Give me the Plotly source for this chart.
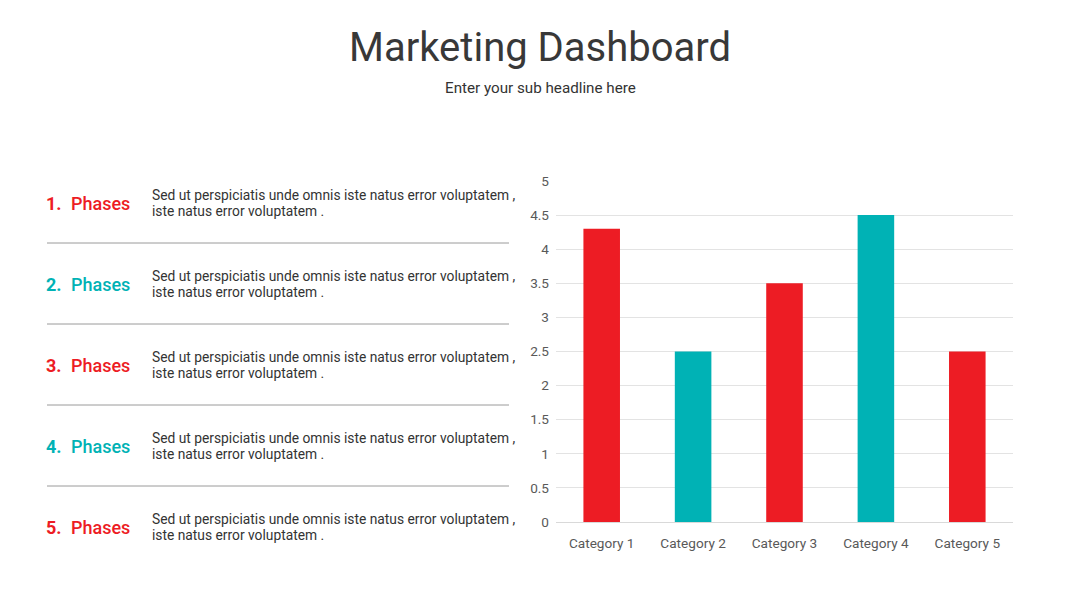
import plotly.graph_objects as go

categories = ["Category 1", "Category 2", "Category 3", "Category 4", "Category 5"]
values = [4.3, 2.5, 3.5, 4.5, 2.5]
bar_colors = ["#ED1C24", "#00B2B5", "#ED1C24", "#00B2B5", "#ED1C24"]
y_ticks = [0, 0.5, 1, 1.5, 2, 2.5, 3, 3.5, 4, 4.5, 5]
y_tick_labels = ["0", "0.5", "1", "1.5", "2", "2.5", "3", "3.5", "4", "4.5", "5"]

phase_numbers = ["1.", "2.", "3.", "4.", "5."]
phase_labels = ["Phases"] * 5
phase_colors = ["#ED1C24", "#00B2B5", "#ED1C24", "#00B2B5", "#ED1C24"]
phase_line1 = ["Sed ut perspiciatis unde omnis iste natus error voluptatem ,"] * 5
phase_line2 = ["iste natus error voluptatem ."] * 5

title = "Marketing Dashboard"
subtitle = "Enter your sub headline here"

W, H = 1080, 608
FONT = "Roboto"
OFF = 8  # page offset of the plot div

def py(y):
    return 1 - (y - OFF) / H

def px(x):
    return (x - OFF) / W

fig = go.Figure()
fig.add_trace(go.Bar(
    x=categories, y=values, marker=dict(color=bar_colors, line=dict(width=0)),
    hoverinfo="x+y", showlegend=False,
))

annotations = [
    dict(text=title, x=px(540), y=py(47), xref="paper", yref="paper", showarrow=False,
         xanchor="center", yanchor="middle", font=dict(family=FONT, size=40, color="#383838")),
    dict(text=subtitle, x=px(540), y=py(88), xref="paper", yref="paper", showarrow=False,
         xanchor="center", yanchor="middle", font=dict(family=FONT, size=15.2, color="#333333")),
]
shapes = []
row_y = [203, 284, 365, 446, 527]
for i, yc in enumerate(row_y):
    annotations.append(dict(text="<b>" + phase_numbers[i] + "</b>", x=px(44), y=py(yc), xref="paper", yref="paper",
                            showarrow=False, xanchor="left", yanchor="middle",
                            font=dict(family=FONT, size=18, color=phase_colors[i])))
    annotations.append(dict(text=phase_labels[i], x=px(69), y=py(yc), xref="paper", yref="paper",
                            showarrow=False, xanchor="left", yanchor="middle",
                            font=dict(family=FONT, size=18, color=phase_colors[i], weight=500)))
    annotations.append(dict(text=phase_line1[i], x=px(150), y=py(yc - 8), xref="paper", yref="paper",
                            showarrow=False, xanchor="left", yanchor="middle", align="left",
                            font=dict(family=FONT, size=13.8, color="#333333")))
    annotations.append(dict(text=phase_line2[i], x=px(150), y=py(yc + 8), xref="paper", yref="paper",
                            showarrow=False, xanchor="left", yanchor="middle", align="left",
                            font=dict(family=FONT, size=13.8, color="#333333")))
    if i < 4:
        ly = yc + 40
        shapes.append(dict(type="line", xref="paper", yref="paper", x0=px(47), x1=px(509),
                           y0=py(ly), y1=py(ly), line=dict(color="#9a9a9a", width=1)))

fig.update_layout(
    width=W, height=H,
    margin=dict(l=0, r=0, t=0, b=0, autoexpand=False),
    paper_bgcolor="white", plot_bgcolor="white",
    bargap=0.6,
    xaxis=dict(domain=[px(556), px(1013)], showgrid=False, showline=False, ticks="",
               ticklabelstandoff=11,
               tickfont=dict(family=FONT, size=13.6, color="#595959"), fixedrange=True),
    yaxis=dict(domain=[py(522), py(181)], range=[0, 5], tickvals=y_ticks, ticktext=y_tick_labels,
               showgrid=True, gridcolor="#e3e3e3", gridwidth=1, zeroline=True, zerolinecolor="#d9d9d9",
               zerolinewidth=1, showline=False, ticks="", ticklabelstandoff=6,
               tickfont=dict(family=FONT, size=13.6, color="#595959"), fixedrange=True),
    annotations=annotations, shapes=shapes,
    font=dict(family=FONT),
)

fig.write_html("out.html")
